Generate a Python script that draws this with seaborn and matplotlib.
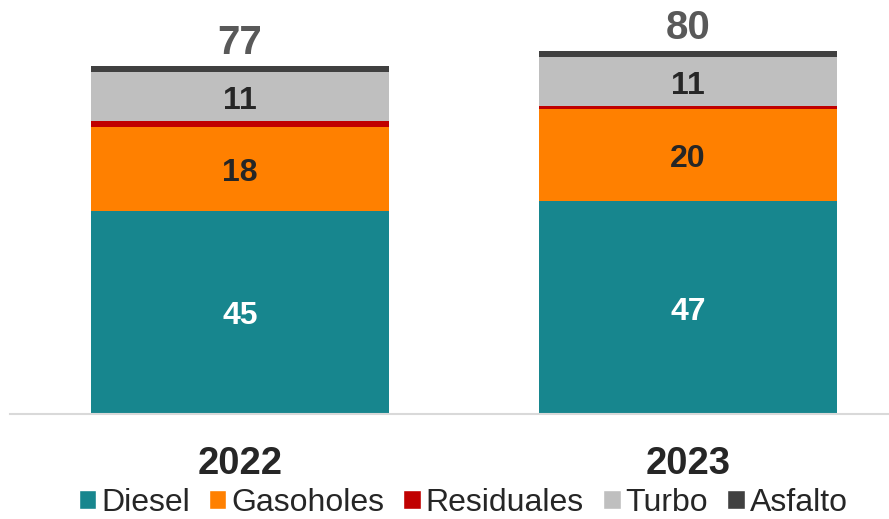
import numpy as np
import matplotlib
matplotlib.use("Agg")
import matplotlib.pyplot as plt
import seaborn as sns
from matplotlib.patches import Patch


years = ["2022", "2023"]
series = ["Diesel", "Gasoholes", "Residuales", "Turbo", "Asfalto"]
diesel = [44.9, 47.0]
gasoholes = [18.4, 20.3]
residuales = [1.3, 0.7]
turbo = [10.9, 10.8]
asfalto = [1.3, 1.3]

COLORS = {
    "Diesel": "#17868E",
    "Gasoholes": "#FF8000",
    "Residuales": "#C00000",
    "Turbo": "#BFBFBF",
    "Asfalto": "#404040",
}
# which segments carry a value label, and in what colour
LABEL_COLORS = {"Diesel": "white", "Gasoholes": "#262626", "Turbo": "#262626"}


def main():
    sns.set_theme(style="white")
    plt.rcParams["font.family"] = ["Liberation Sans", "DejaVu Sans"]

    values = [diesel, gasoholes, residuales, turbo, asfalto]
    totals = np.sum(values, axis=0)

    fig = plt.figure(figsize=(8.89, 5.19), dpi=100)
    ax = fig.add_axes([10 / 889, 105 / 519, 879 / 889, 414 / 519])

    bottom = np.zeros(len(years))
    for name, vals in zip(series, values):
        sns.barplot(x=years, y=vals, bottom=bottom, color=COLORS[name],
                    saturation=1, width=0.665, linewidth=0, ax=ax)
        bottom = bottom + np.array(vals)

    for name, cont in zip(series, ax.containers):
        if name in LABEL_COLORS:
            vals = values[series.index(name)]
            anns = ax.bar_label(cont, labels=[f"{v:.0f}" for v in vals],
                                label_type="center", color=LABEL_COLORS[name],
                                fontsize=23, fontweight="bold")
            for a in anns:
                a.xyann = (0, -3)  # nudge down, center va includes descent

    # totals above the stack
    ax.bar_label(ax.containers[-1], labels=[f"{t:.0f}" for t in totals],
                 padding=3, color="#595959", fontsize=29, fontweight="bold")

    ax.set_xlim(-0.513, 1.449)
    ax.set_ylim(0, 91.4)
    ax.set_yticks([])
    ax.set_xlabel("")
    ax.set_ylabel("")
    ax.tick_params(axis="x", length=0, pad=23, labelsize=27.5, labelcolor="#262626")
    for lbl in ax.get_xticklabels():
        lbl.set_fontweight("bold")
    for s in ["top", "left", "right"]:
        ax.spines[s].set_visible(False)
    ax.spines["bottom"].set_color("#D9D9D9")
    ax.spines["bottom"].set_linewidth(1.5)

    handles = [Patch(facecolor=COLORS[s], label=s) for s in series]
    fig.legend(handles=handles, loc="center", bbox_to_anchor=(463 / 889, 16 / 519),
               ncol=5, frameon=False, fontsize=23, handlelength=0.55,
               handleheight=0.55, handletextpad=0.15, columnspacing=0.6,
               labelcolor="#262626", borderpad=0)

    fig.savefig("out.png", dpi=100)


if __name__ == "__main__":
    main()
